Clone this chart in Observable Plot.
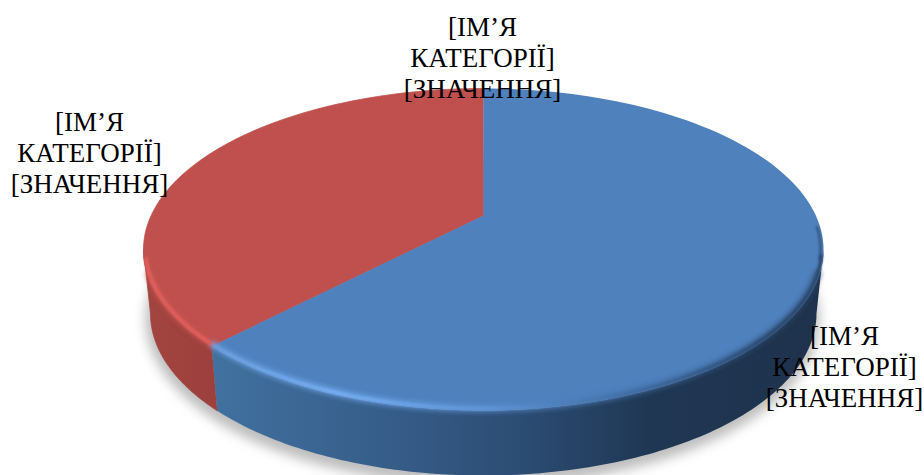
<!DOCTYPE html>
<html>
<head>
<meta charset="utf-8">
<script src="https://cdn.jsdelivr.net/npm/d3@7"></script>
<script src="https://cdn.jsdelivr.net/npm/@observablehq/plot@0.6"></script>
<style>html,body{margin:0;padding:0;background:#fff}svg{display:block}</style>
</head>
<body>
<div id="chart"></div>
<script>
const categories = ["[ІМ’Я\nКАТЕГОРІЇ]", "[ІМ’Я\nКАТЕГОРІЇ]", "[ІМ’Я\nКАТЕГОРІЇ]"];
const valuePlaceholder = "[ЗНАЧЕННЯ]";
const values = [62.2, 37.8, 0];

// Layout of the tilted pie, separate from the data
const W = 924, H = 475;
const top_ = {cx: 483, cy: 249, rx: 340, ry: 161};
const bot_ = {cx: 483, cy: 313, rx: 333, ry: 162};
const k = 0.211;              // perspective: how far the true centre sits above the ellipse centre
const labelAnchors = [[844, 366], [89, 152], [482, 57]];

const total = d3.sum(values);
let acc = 0;
const arcs = values.map(v => { const a0 = acc / total * 2 * Math.PI; acc += v; return [a0, acc / total * 2 * Math.PI]; });

function project(e, t, inset = 0) {
  const u = Math.sin(t), w = Math.cos(t), d = 1 + k * w;
  return {x: e.cx + (e.rx - inset) * u * Math.sqrt(1 - k * k) / d,
          y: e.cy - (e.ry - inset) * (w + k) / d};
}
const sweep = (t0, t1) => d3.range(0, 121).map(i => t0 + (t1 - t0) * i / 120);
const apex = {x: top_.cx, y: top_.cy - top_.ry * k};
const face = ([a0, a1]) => [apex, ...sweep(a0, a1).map(t => project(top_, t))];
const wall = (a0, a1) => [...sweep(a0, a1).map(t => project(top_, t)), ...sweep(a0, a1).reverse().map(t => project(bot_, t))];
const rim = (a0, a1, inset = 2) => sweep(a0, a1).map(t => project(top_, t, inset));

const edge = Math.acos(-k);   // where the rim meets the silhouette on the right
const split = arcs[0][1];
const fullBottom = sweep(0, 2 * Math.PI).map(t => project(bot_, t, -4));

const defs = () => {
  const d = d3.create("svg:defs");
  const grad = (id, x1, x2, stops) => {
    const g = d.append("linearGradient").attr("id", id).attr("gradientUnits", "userSpaceOnUse")
      .attr("x1", x1).attr("x2", x2).attr("y1", 0).attr("y2", 0);
    stops.forEach(([o, c]) => g.append("stop").attr("offset", o).attr("stop-color", c));
  };
  grad("wallBlue", 213, 820, [[0, "#41719f"], [0.3, "#365c88"], [0.5, "#2c4d74"], [0.72, "#203753"], [1, "#1e324c"]]);
  grad("wallRed", 146, 218, [[0, "#a2443f"], [1, "#9d3f3c"]]);
  grad("rimBlue", 213, 823, [[0, "#6a9edf"], [0.2, "#76aef3"], [0.45, "#5f94d6"], [0.7, "#3f6a9e"], [0.9, "#2c4a70"], [1, "#2b486c"]]);
  return d.node();
};

const plot = Plot.plot({
  width: W, height: H, margin: 0,
  x: {domain: [0, W], range: [0, W], axis: null},
  y: {domain: [0, H], range: [0, H], axis: null},
  marks: [
    defs,
    Plot.line(fullBottom, {x: d => d.x - 1, y: d => d.y + 6, fill: "#bdbdbd", stroke: "none", curve: "linear-closed", imageFilter: "blur(6px)"}),
    Plot.line(wall(split, 2 * Math.PI - edge), {x: "x", y: "y", fill: "url(#wallRed)", stroke: "#9f413d", strokeWidth: 0.8, curve: "linear-closed"}),
    Plot.line(wall(edge, split), {x: "x", y: "y", fill: "url(#wallBlue)", stroke: "none", curve: "linear-closed"}),
    Plot.line(face(arcs[1]), {x: "x", y: "y", fill: "#c0504d", stroke: "#c0504d", strokeWidth: 0.8, curve: "linear-closed"}),
    Plot.line(face(arcs[0]), {x: "x", y: "y", fill: "#4f81bd", stroke: "none", curve: "linear-closed"}),
    Plot.line(rim(split, 2 * Math.PI - edge - 0.15), {x: "x", y: "y", stroke: "#c85653", strokeWidth: 9, strokeOpacity: 0.6, imageFilter: "blur(2px)"}),
    Plot.line(rim(edge + 0.15, split), {x: "x", y: "y", stroke: "url(#rimBlue)", strokeWidth: 9, strokeOpacity: 0.55, imageFilter: "blur(2px)"}),
    Plot.line(rim(edge - 0.14, edge + 0.06, 3), {x: "x", y: "y", stroke: "#2b486c", strokeWidth: 2.5, strokeOpacity: 0.75, imageFilter: "blur(1px)"}),
    Plot.line(rim(split, 2 * Math.PI - edge - 0.06), {x: "x", y: "y", stroke: "#df5e5b", strokeWidth: 4, imageFilter: "blur(1px)"}),
    Plot.line(rim(edge + 0.04, split), {x: "x", y: "y", stroke: "url(#rimBlue)", strokeWidth: 3.5, imageFilter: "blur(1px)"}),
    Plot.text(categories.map((c, i) => ({label: c + "\n" + valuePlaceholder, x: labelAnchors[i][0], y: labelAnchors[i][1]})), {
      x: "x", y: "y", text: "label", lineHeight: 1.15, fontFamily: "Liberation Serif", fontSize: 27, fill: "#000"
    })
  ]
});
document.getElementById("chart").append(plot);
</script>
</body>
</html>
